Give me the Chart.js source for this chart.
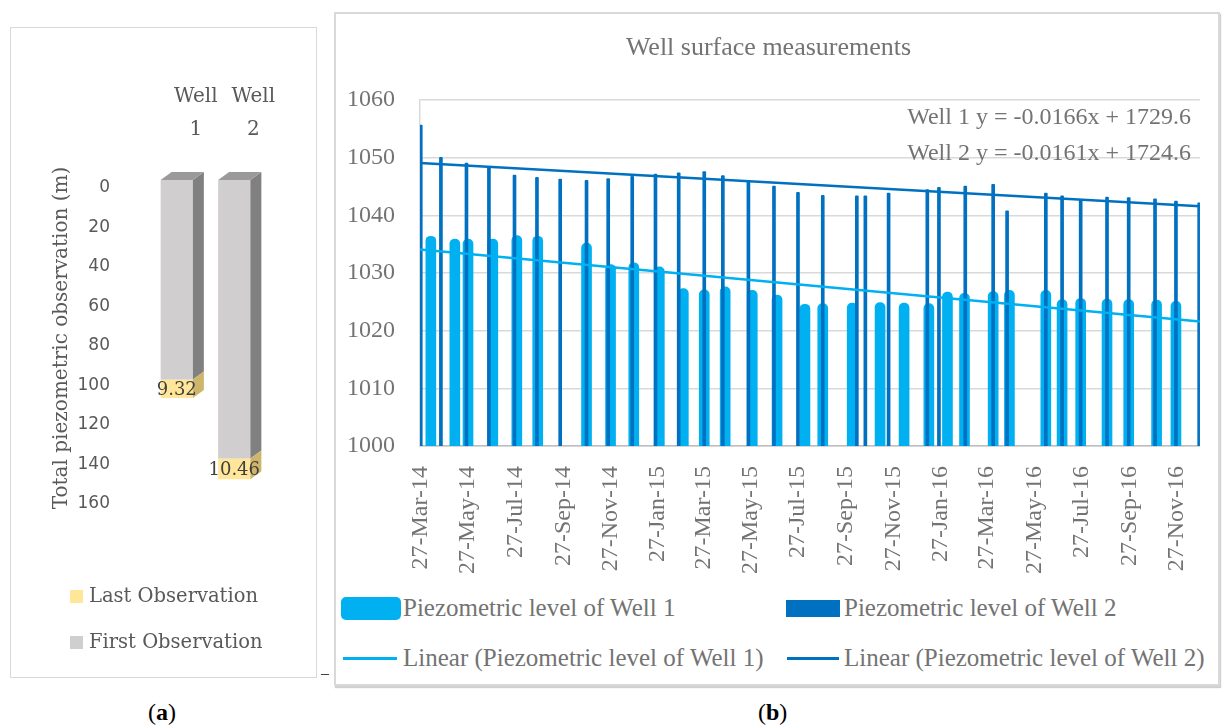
<!DOCTYPE html>
<html>
<head>
<meta charset="utf-8">
<script src="https://cdn.jsdelivr.net/npm/chart.js@4.4.1/dist/chart.umd.min.js"></script>
<style>
  html, body { margin:0; padding:0; background:#fff; width:1223px; height:726px; overflow:hidden; }
  body { position:relative; font-family:'Liberation Serif', serif; }
  .abs { position:absolute; }
  #panelA { left:10px; top:27px; width:307px; height:651px; border:1.5px solid #d9d9d9; box-sizing:border-box; }
  #panelB { left:334px; top:12px; width:886px; height:674px; border:2px solid #d9d9d9; box-sizing:border-box; box-shadow:1px 2px 1px #d0d0d0; }
  .legA { font-family:'DejaVu Serif', serif; font-size:19.5px; color:#595959; white-space:nowrap; line-height:24px; }
  .legA i { display:inline-block; width:13px; height:13px; margin-right:6px; vertical-align:-1px; }
  .legB { font-family:'Liberation Serif', serif; font-size:25px; color:#737373; white-space:nowrap; line-height:30px; }
  .eq { font-family:'Liberation Serif', serif; font-size:24px; color:#737373; white-space:nowrap; line-height:28px; text-align:right; }
  .cap { font-family:'Liberation Serif', serif; font-size:24px; color:#000; line-height:28px; }
</style>
</head>
<body>
<div id="panelA" class="abs"></div>
<div id="panelB" class="abs"></div>
<canvas id="cA" class="abs" width="306" height="649" style="left:11px;top:28px"></canvas>
<canvas id="cB" class="abs" width="883" height="575" style="left:335px;top:13px"></canvas>
<div id="legendA"></div>
<div id="legendB"></div>
<div id="equations"></div>
<div class="abs cap" style="left:148px;top:698px">(<b>a</b>)</div>
<div class="abs cap" style="left:758px;top:698px">(<b>b</b>)</div>
<div class="abs" style="left:321px;top:664px;font-size:16px;color:#222;font-family:'Liberation Serif',serif">–</div>

<script>
// ---------- Panel (a) data ----------
const wellCategories = ['Well 1', 'Well 2'];
const firstObservation = [101, 141];
const lastObservation = [9.32, 10.46];
const depthTicks = [0, 20, 40, 60, 80, 100, 120, 140, 160];

// ---------- Panel (b) data ----------
const well1Dates = ['2014-04-09','2014-05-10','2014-05-27','2014-06-28','2014-07-29','2014-08-25','2014-10-27','2014-11-27','2014-12-27','2015-01-29','2015-03-01','2015-03-28','2015-04-24','2015-05-29','2015-06-30','2015-08-05','2015-08-28','2015-10-05','2015-11-10','2015-12-11','2016-01-12','2016-02-05','2016-02-27','2016-04-04','2016-04-25','2016-06-11','2016-07-02','2016-07-26','2016-08-29','2016-09-26','2016-11-01','2016-11-26'];
const well1Levels = [1036.4,1035.9,1035.9,1035.9,1036.5,1036.4,1035.2,1031.5,1031.8,1031.1,1027.3,1027.1,1027.6,1027.0,1026.2,1024.6,1024.7,1024.8,1024.9,1024.8,1024.7,1026.7,1026.5,1026.8,1027.0,1027.0,1025.4,1025.6,1025.5,1025.4,1025.3,1025.1];

const well2Dates = ['2014-03-27','2014-04-22','2014-05-25','2014-06-23','2014-07-26','2014-08-24','2014-09-23','2014-10-27','2014-11-24','2014-12-25','2015-01-24','2015-02-23','2015-03-28','2015-04-21','2015-05-24','2015-06-26','2015-07-27','2015-08-28','2015-10-11','2015-10-22','2015-11-21','2016-01-10','2016-01-25','2016-02-28','2016-04-04','2016-04-22','2016-06-11','2016-07-02','2016-07-26','2016-08-29','2016-09-26','2016-10-30','2016-11-26','2016-12-26'];
const well2Levels = [1055.7,1050.1,1049.1,1048.3,1047.0,1046.6,1046.3,1046.1,1046.4,1046.8,1047.2,1047.4,1047.6,1046.9,1046.0,1045.1,1044.0,1043.5,1043.4,1043.4,1043.9,1044.5,1044.9,1045.1,1045.4,1040.8,1043.9,1043.4,1042.7,1043.2,1043.1,1042.9,1042.5,1042.2];

const trendDates = ['2014-03-26', '2016-12-27'];
const trend1Levels = [1034.1, 1021.6];
const trend2Levels = [1049.1, 1041.6];

const axisStart = '2014-03-26';
const axisEnd = '2016-12-27';
const dateTickLabels = ['27-Mar-14','27-May-14','27-Jul-14','27-Sep-14','27-Nov-14','27-Jan-15','27-Mar-15','27-May-15','27-Jul-15','27-Sep-15','27-Nov-15','27-Jan-16','27-Mar-16','27-May-16','27-Jul-16','27-Sep-16','27-Nov-16'];
const levelTicks = [1000, 1010, 1020, 1030, 1040, 1050, 1060];
const trendEquations = ['Well 1 y = -0.0166x + 1729.6', 'Well 2 y = -0.0161x + 1724.6'];

const seriesNames = ['Piezometric level of Well 1', 'Piezometric level of Well 2'];
const trendNames = ['Linear (Piezometric level of Well 1)', 'Linear (Piezometric level of Well 2)'];

// ---------- helpers ----------
const MONTHS = {Jan:0,Feb:1,Mar:2,Apr:3,May:4,Jun:5,Jul:6,Aug:7,Sep:8,Oct:9,Nov:10,Dec:11};
function isoToMs(s) { const [y, m, d] = s.split('-').map(Number); return Date.UTC(y, m - 1, d); }
function labelToMs(s) { const [d, mon, yy] = s.split('-'); return Date.UTC(2000 + Number(yy), MONTHS[mon], Number(d)); }
function points(dates, vals) { return dates.map((d, i) => ({ x: isoToMs(d), y: vals[i] })); }

const COL_W1 = '#00B0F0', COL_W2 = '#0070C0';
const COL_FIRST = '#d0cece', COL_LAST = '#ffe699';
const TXT_B = '#737373';

// ---------- Panel (a) chart ----------
const threeD = {
  id: 'threeD',
  afterDatasetsDraw(chart) {
    const ctx = chart.ctx;
    const DX = 11, DY = 8;
    chart.data.datasets.forEach((ds, di) => {
      const meta = chart.getDatasetMeta(di);
      meta.data.forEach((el) => {
        const p = el.getProps(['x', 'y', 'base', 'width'], true);
        const top = Math.min(p.y, p.base), bot = Math.max(p.y, p.base);
        const l = p.x - p.width / 2, r = p.x + p.width / 2;
        ctx.save();
        ctx.fillStyle = ds.sideColor;
        ctx.beginPath();
        ctx.moveTo(r, top); ctx.lineTo(r + DX, top - DY); ctx.lineTo(r + DX, bot - DY); ctx.lineTo(r, bot);
        ctx.closePath(); ctx.fill();
        if (di === 0) {
          ctx.fillStyle = ds.topColor;
          ctx.beginPath();
          ctx.moveTo(l, top); ctx.lineTo(l + DX, top - DY); ctx.lineTo(r + DX, top - DY); ctx.lineTo(r, top);
          ctx.closePath(); ctx.fill();
        }
        ctx.restore();
      });
    });
    // data labels on last observation
    const meta = chart.getDatasetMeta(1);
    const ds = chart.data.datasets[1];
    ctx.save();
    ctx.font = '18px "DejaVu Serif"';
    ctx.fillStyle = '#404040';
    ctx.textAlign = 'center';
    ctx.textBaseline = 'middle';
    meta.data.forEach((el, i) => {
      const p = el.getProps(['x', 'y', 'base'], true);
      ctx.fillText(String(ds.data[i]), p.x, (p.y + p.base) / 2 + 2);
    });
    ctx.restore();
  }
};

new Chart(document.getElementById('cA'), {
  type: 'bar',
  data: {
    labels: wellCategories.map(c => c.split(' ')),
    datasets: [
      { label: 'First Observation', data: firstObservation, backgroundColor: COL_FIRST, sideColor: '#808080', topColor: '#9a9a9a' },
      { label: 'Last Observation', data: lastObservation, backgroundColor: COL_LAST, sideColor: '#cdb56c' }
    ]
  },
  options: {
    responsive: false,
    animation: false,
    layout: { padding: { left: 0, right: 54, top: 0, bottom: 181 } },
    datasets: { bar: { categoryPercentage: 0.8, barPercentage: 0.7 } },
    plugins: { legend: { display: false }, tooltip: { enabled: false } },
    scales: {
      x: {
        position: 'top', stacked: true,
        grid: { display: false }, border: { display: false },
        afterFit: s => { s.height = 152; },
        ticks: { padding: 25.5, labelOffset: 19, color: '#595959', font: { family: 'DejaVu Serif', size: 20, lineHeight: '33px' } }
      },
      y: {
        reverse: true, stacked: true, min: 0, max: 160,
        grid: { display: false }, border: { display: false },
        afterFit: s => { s.width = 137; },
        afterBuildTicks: s => { s.ticks = depthTicks.map(v => ({ value: v })); },
        ticks: { padding: 30, labelOffset: 8, color: '#595959', font: { family: 'DejaVu Sans', size: 17 } },
        title: { display: true, text: 'Total piezometric observation (m)', color: '#595959', font: { family: 'DejaVu Serif', size: 20 }, padding: { top: 39, bottom: 0 } }
      }
    }
  },
  plugins: [threeD]
});

// legend (a) — Excel lists stacked series in reverse
(function () {
  const items = [['Last Observation', COL_LAST, 584], ['First Observation', COL_FIRST, 630]];
  const host = document.getElementById('legendA');
  items.forEach(([txt, col, top]) => {
    const d = document.createElement('div');
    d.className = 'abs legA';
    d.style.left = '70px'; d.style.top = top + 'px';
    d.innerHTML = '<i style="background:' + col + '"></i>' + txt;
    host.appendChild(d);
  });
})();

// ---------- Panel (b) chart ----------
const tickValues = dateTickLabels.map(labelToMs);
const tickLabelByValue = new Map(tickValues.map((v, i) => [v, dateTickLabels[i]]));

new Chart(document.getElementById('cB'), {
  type: 'bar',
  data: {
    datasets: [
      { type: 'line', label: trendNames[1], data: points(trendDates, trend2Levels), borderColor: COL_W2, borderWidth: 2.5, pointRadius: 0, order: 0 },
      { type: 'line', label: trendNames[0], data: points(trendDates, trend1Levels), borderColor: COL_W1, borderWidth: 2.5, pointRadius: 0, order: 1 },
      { label: seriesNames[1], data: points(well2Dates, well2Levels), backgroundColor: COL_W2, barThickness: 3, grouped: false, borderRadius: 1, order: 2 },
      { label: seriesNames[0], data: points(well1Dates, well1Levels), backgroundColor: COL_W1, barThickness: 10, grouped: false, borderRadius: 5, order: 3 }
    ]
  },
  options: {
    responsive: false,
    animation: false,
    layout: { padding: { left: 0, right: 16, top: 0, bottom: 0 } },
    plugins: {
      legend: { display: false },
      tooltip: { enabled: false },
      title: { display: true, text: 'Well surface measurements', color: TXT_B, font: { family: 'Liberation Serif', size: 26, weight: 'normal', lineHeight: 1.2 }, padding: { top: 20, bottom: 36 } }
    },
    scales: {
      x: {
        type: 'linear', min: isoToMs(axisStart), max: isoToMs(axisEnd), offset: false,
        grid: { display: false }, border: { display: true, color: '#bfbfbf', width: 1.5 },
        afterBuildTicks: s => { s.ticks = tickValues.map(v => ({ value: v })); },
        afterFit: s => { s.height = 142; },
        ticks: { autoSkip: false, maxRotation: 90, minRotation: 90, padding: 12, color: TXT_B,
                 font: { family: 'Liberation Serif', size: 24 },
                 callback: v => tickLabelByValue.get(v) || '' }
      },
      y: {
        min: 1000, max: 1060, beginAtZero: false,
        grid: { color: '#d9d9d9', lineWidth: 1.5, drawTicks: false },
        border: { display: true, color: '#d9d9d9', width: 1.5 },
        afterBuildTicks: s => { s.ticks = levelTicks.map(v => ({ value: v })); },
        afterFit: s => { s.width = 85; },
        ticks: { padding: 25, color: TXT_B, font: { family: 'Liberation Serif', size: 24 }, callback: v => String(v) }
      }
    }
  }
});

// trendline equations
(function () {
  const host = document.getElementById('equations');
  [[trendEquations[0], 102], [trendEquations[1], 138]].forEach(([t, top]) => {
    const d = document.createElement('div');
    d.className = 'abs eq';
    d.style.right = '32px'; d.style.top = top + 'px';
    d.textContent = t;
    host.appendChild(d);
  });
})();

// legend (b)
(function () {
  const host = document.getElementById('legendB');
  const rows = [
    { left: 341, text: seriesNames[0], sw: '<i style="position:absolute;left:0;top:-11px;width:60px;height:23px;border-radius:5px;background:' + COL_W1 + '"></i>', tx: 62, y: 608 },
    { left: 786, text: seriesNames[1], sw: '<i style="position:absolute;left:0;top:-8px;width:54px;height:17px;background:' + COL_W2 + '"></i>', tx: 58, y: 608 },
    { left: 343, text: trendNames[0], sw: '<i style="position:absolute;left:0;top:-1.5px;width:54px;height:3px;background:' + COL_W1 + '"></i>', tx: 60, y: 658 },
    { left: 787, text: trendNames[1], sw: '<i style="position:absolute;left:0;top:-1.5px;width:52px;height:3px;background:' + COL_W2 + '"></i>', tx: 57, y: 658 }
  ];
  rows.forEach(r => {
    const d = document.createElement('div');
    d.className = 'abs';
    d.style.left = r.left + 'px'; d.style.top = r.y + 'px';
    d.innerHTML = r.sw + '<span class="abs legB" style="left:' + r.tx + 'px;top:-15px">' + r.text + '</span>';
    host.appendChild(d);
  });
})();
</script>
</body>
</html>
